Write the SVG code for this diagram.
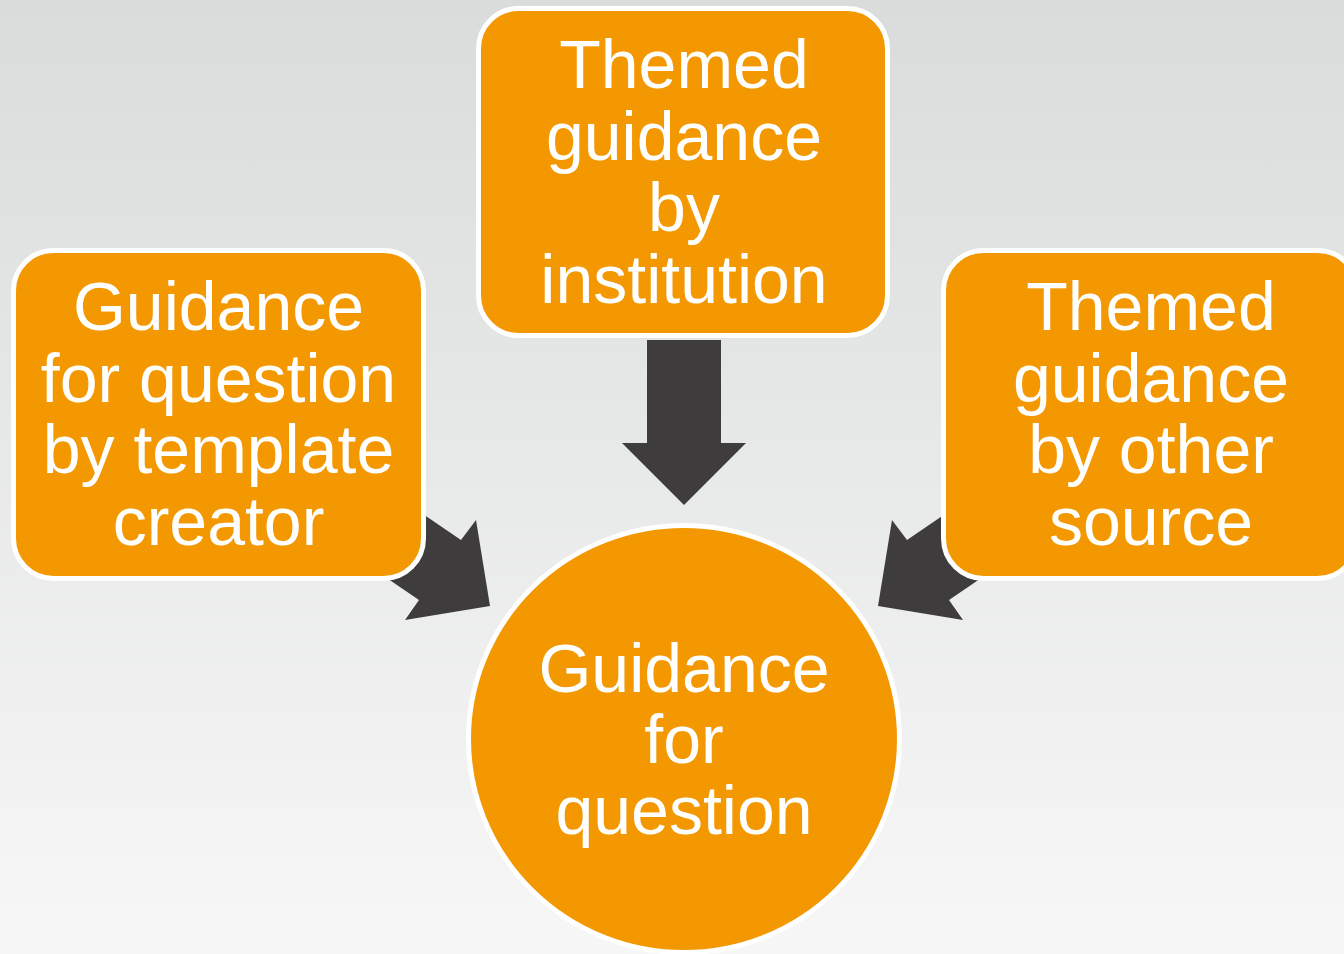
<svg xmlns="http://www.w3.org/2000/svg" width="1344" height="954" viewBox="0 0 1344 954">
<defs>
<linearGradient id="bg" x1="0" y1="0" x2="0" y2="1">
<stop offset="0" stop-color="#d9dcdb"/>
<stop offset="1" stop-color="#f7f7f7"/>
</linearGradient>
<style>
.box{fill:#f39800;stroke:#ffffff;stroke-width:5}
.arrow{fill:#3e3c3d}
.t{fill:#ffffff;font-family:"Liberation Sans",Arial,sans-serif;font-size:68px;text-anchor:middle}
</style>
</defs>
<rect x="0" y="0" width="1344" height="954" fill="url(#bg)"/>
<g id="connectors">
<polygon class="arrow" points="647,340 721,340 721,443 746,443 684,505 622,443 647,443"/>
<polygon class="arrow" points="395,495 461,540 476,520 490,606 405,620 419,600 353,555"/>
<polygon class="arrow" points="973,495 907,540 892,520 878,606 963,620 949,600 1015,555"/>
</g>
<g id="node-institution">
<rect class="box" x="478.5" y="8.5" width="409" height="327" rx="40"/>
<text class="t"><tspan x="684" y="88">Themed</tspan><tspan x="684" y="159.5">guidance</tspan><tspan x="684" y="231">by</tspan><tspan x="684" y="302.5">institution</tspan></text>
</g>
<g id="node-template">
<rect class="box" x="13.5" y="250.5" width="410" height="328" rx="40"/>
<text class="t"><tspan x="218.5" y="330">Guidance</tspan><tspan x="218.5" y="402">for question</tspan><tspan x="218.5" y="473">by template</tspan><tspan x="218.5" y="545">creator</tspan></text>
</g>
<g id="node-other">
<rect class="box" x="943.5" y="250.5" width="414" height="328" rx="40"/>
<text class="t"><tspan x="1151" y="330">Themed</tspan><tspan x="1151" y="402">guidance</tspan><tspan x="1151" y="473">by other</tspan><tspan x="1151" y="545">source</tspan></text>
</g>
<g id="node-question">
<ellipse class="box" cx="684" cy="739" rx="215.5" ry="213.5"/>
<text class="t"><tspan x="684" y="692">Guidance</tspan><tspan x="684" y="763">for</tspan><tspan x="684" y="834">question</tspan></text>
</g>
</svg>
